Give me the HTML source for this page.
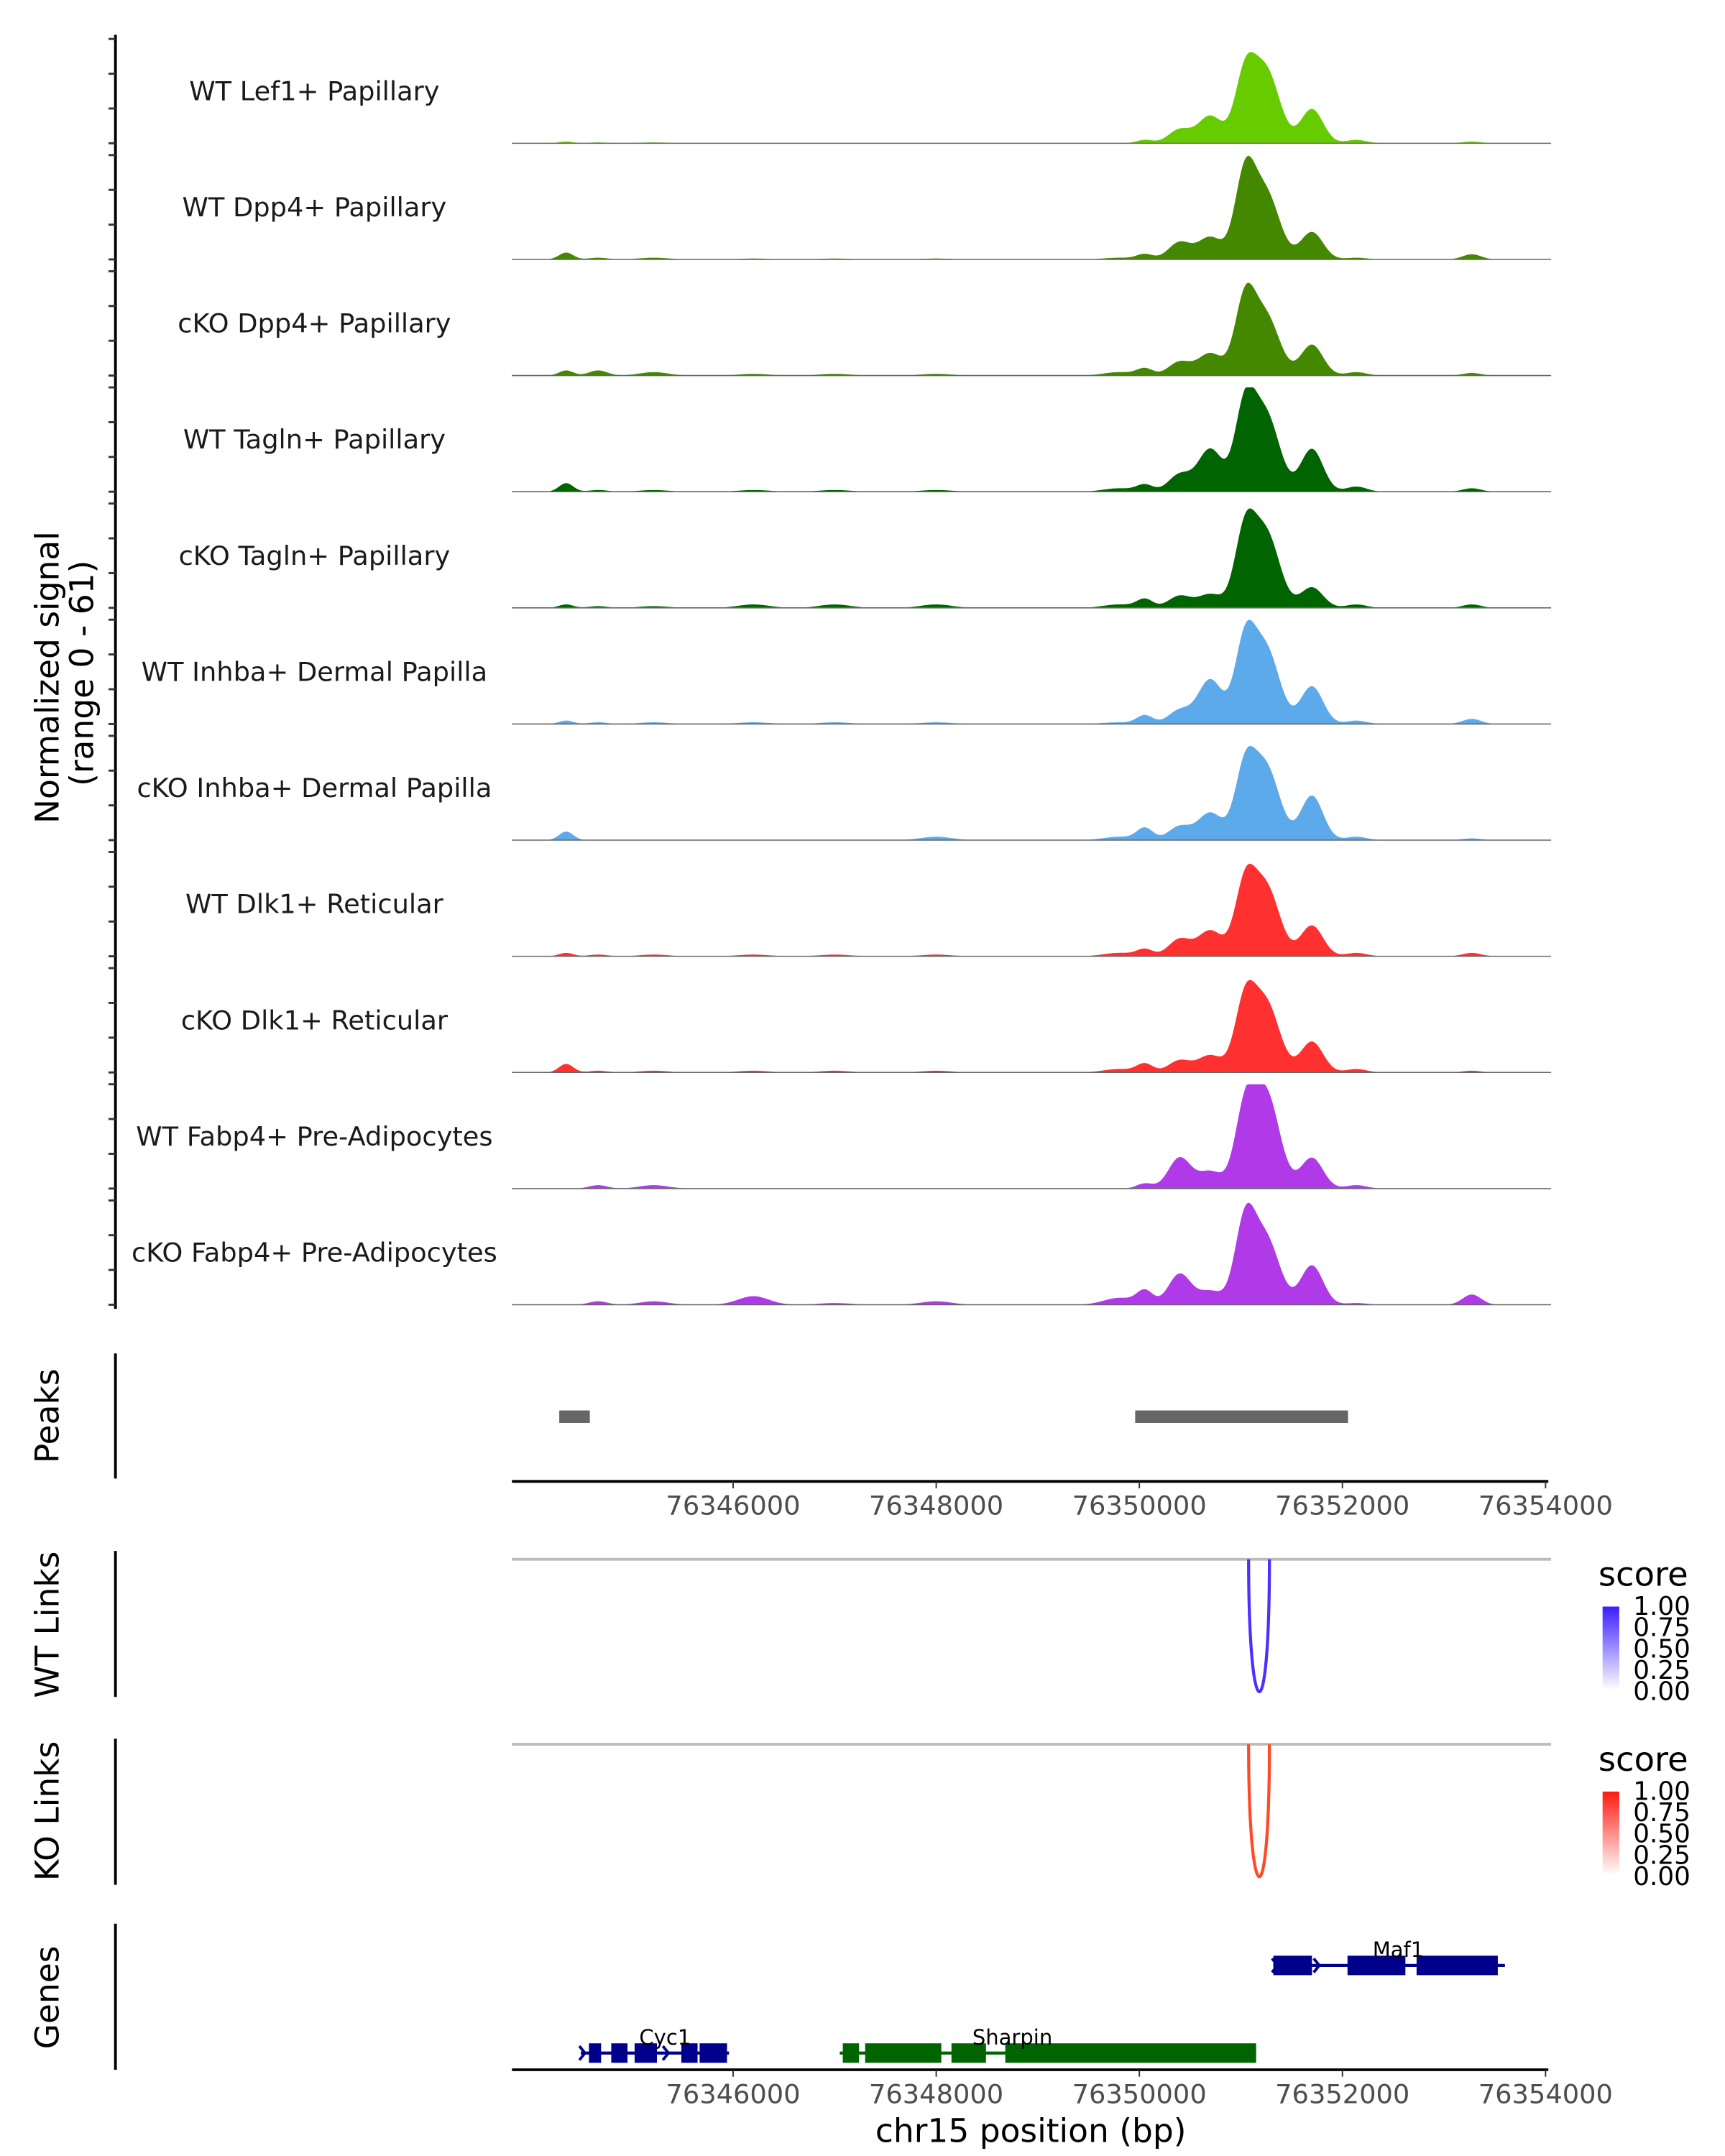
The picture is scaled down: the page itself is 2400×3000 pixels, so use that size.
<!DOCTYPE html>
<html><head><meta charset="utf-8"><style>
html,body{margin:0;padding:0;background:#fff}
svg{display:block;font-family:"DejaVu Sans","Liberation Sans",sans-serif}
</style></head><body>
<svg id="chart" xmlns="http://www.w3.org/2000/svg" width="2400" height="3000" viewBox="0 0 1240 1550">
<rect width="1240" height="1550" fill="#fff"/>
<g id="signal"></g>
<g id="left"></g>
<g id="peaks"></g>
<g id="links"></g>
<g id="genes"></g>
<text transform="translate(42,487) rotate(-90)" text-anchor="middle" font-size="23.5">Normalized signal</text>
<text transform="translate(67,484) rotate(-90)" text-anchor="middle" font-size="23.5">(range 0 - 61)</text>
<text transform="translate(42,1018) rotate(-90)" text-anchor="middle" font-size="23.5">Peaks</text>
<text transform="translate(42,1168) rotate(-90)" text-anchor="middle" font-size="23.5">WT Links</text>
<text transform="translate(42,1302) rotate(-90)" text-anchor="middle" font-size="23.5">KO Links</text>
<text transform="translate(42,1436) rotate(-90)" text-anchor="middle" font-size="23.5">Genes</text>
<text x="741" y="1540" text-anchor="middle" font-size="23.5">chr15 position (bp)</text>
</svg>
<script>
const trackNames=["WT Lef1+ Papillary","WT Dpp4+ Papillary","cKO Dpp4+ Papillary","WT Tagln+ Papillary","cKO Tagln+ Papillary","WT Inhba+ Dermal Papilla","cKO Inhba+ Dermal Papilla","WT Dlk1+ Reticular","cKO Dlk1+ Reticular","WT Fabp4+ Pre-Adipocytes","cKO Fabp4+ Pre-Adipocytes"];
const trackColors=["#66cc00","#448800","#448800","#006400","#006400","#5daaea","#5daaea","#ff3030","#ff3030","#b03ae8","#b03ae8"];
const peakCenters=[76344356,76344671,76345219,76346200,76347000,76348000,76349800,76350055,76350397,76350699,76351040,76351250,76351699,76352137,76353274];
const peakWidths=[70,90,140,150,150,150,150,80,110,120,100,130,110,100,90];
const h0=[1,0.5,0.5,0,0,0,0,2,8,16,38,42,20,2,1];
const h1=[4,1,1,0.5,0.5,0.5,1,3,10,13,48,38,16,1,3];
const h2=[3,3,2,1,1,1,2,4,8,13,43,34,18,2,1.5];
const h3=[5,1,1,1,1,1,2,4,10,25,48,44,25,3,2];
const h4=[2,1,1,2,2,2,2,5,7,8,43,43,12,2,2];
const h5=[2,1,1,1,1,1,1,5,8,26,46,43,22,2,3];
const h6=[5,0,0,0,0,2,2,7,8,16,40,42,26,2,1];
const h7=[2,1,1,1,1,1,2,4,10,15,40,40,18,2,2];
const h8=[5,1,1,1,1,1,2,5,7,10,40,40,18,2,1];
const h9=[0,2,2,0,0,0,0,3,18,10,43,55,18,2,0];
const h10=[0,2,2,5,1,2,4,8,18,8,47,38,23,1,6];
const heights=[h0,h1,h2,h3,h4,h5,h6,h7,h8,h9,h10];
const xTicks=[76346000,76348000,76350000,76352000,76354000];
const peakStarts=[76344288,76349959];
const peakEnds=[76344589,76352055];
const wtLinkStart=[76351076], wtLinkEnd=[76351281], wtLinkScore=[1.0];
const koLinkStart=[76351076], koLinkEnd=[76351281], koLinkScore=[1.0];
const legendTicks=["1.00","0.75","0.50","0.25","0.00"];
const genesData=[
 {name:"Maf1",y:1413,color:"#00008b",start:76351320,end:76353600,exons:[[76351320,76351700],[76352050,76352620],[76352730,76353530]],label:76352550,dir:1},
 {name:"Cyc1",y:1476,color:"#00008b",start:76344500,end:76345960,exons:[[76344580,76344700],[76344800,76344960],[76345030,76345250],[76345490,76345650],[76345670,76345940]],label:76345330,dir:1},
 {name:"Sharpin",y:1476,color:"#006400",start:76347050,end:76351150,exons:[[76347080,76347240],[76347300,76348050],[76348150,76348490],[76348680,76351150]],label:76348750,dir:-1}
];
const NS="http://www.w3.org/2000/svg";
const X0=368,X1=1115,BP0=76346000,PX0=527,PXPB=584/8000;
function xs(bp){return PX0+(bp-BP0)*PXPB;}
const TOP0=28,TH=83.5,TRH=75,YMAX=61;
function mk(tag,attrs,parent){const e=document.createElementNS(NS,tag);for(const k in attrs)e.setAttribute(k,attrs[k]);parent.appendChild(e);return e;}
const sig=document.getElementById('signal');
trackNames.forEach((nm,i)=>{
 const base=TOP0+TRH+i*TH;
 const hs=heights[i];
 let d="M"+X0+","+base;
 for(let px=X0;px<=X1;px+=1){
  const bp=BP0+(px-PX0)/PXPB;let v=0;
  for(let k=0;k<peakCenters.length;k++){const z=(bp-peakCenters[k])/peakWidths[k];v+=hs[k]*Math.exp(-0.5*z*z);}
  v=Math.min(v,YMAX);
  d+=" L"+px+","+(base-v/YMAX*TRH).toFixed(2);
 }
 d+=" L"+X1+","+base+" Z";
 const p=mk('path',{d:d,fill:trackColors[i]},sig);
 
 
 const bl=mk('line',{x1:X0,x2:X1,y1:base,y2:base,stroke:'#666','stroke-width':0.8},sig);
 
 
 const t=mk('text',{x:226,y:base-31,'text-anchor':'middle','font-size':'19',fill:'#1a1a1a'},sig);
 t.textContent=nm;
 
 
});
const left=document.getElementById('left');
function vline(y1,y2){const l=mk('line',{x1:83,x2:83,y1:y1,y2:y2,stroke:'#000','stroke-width':2},left);}
vline(25,941);vline(973,1063);vline(1115,1220);vline(1250,1355);vline(1383,1488);
for(let i=0;i<trackNames.length;i++){const base=TOP0+TRH+i*TH;for(let j=0;j<4;j++){const y=base-j*TRH/3;const tk=mk('line',{x1:78,x2:83,y1:y,y2:y,stroke:'#333','stroke-width':1.5},left);}}
const pk=document.getElementById('peaks');
peakStarts.forEach((s,i)=>{const r=mk('rect',{x:xs(s),y:1014,width:xs(peakEnds[i])-xs(s),height:9,fill:'#666'},pk);});
function xaxis(y,g){const a=mk('line',{x1:X0,x2:1113,y1:y,y2:y,stroke:'#000','stroke-width':2},g);
 xTicks.forEach(v=>{const x=xs(v);const tk=mk('line',{x1:x,x2:x,y1:y,y2:y+5,stroke:'#333','stroke-width':1},g);
 const t=mk('text',{x:x,y:y+24,'text-anchor':'middle','font-size':'19',fill:'#4d4d4d'},g);t.textContent=v;});}
xaxis(1065,pk);
const lk=document.getElementById('links');
const defs=mk('defs',{},lk);
function grad(id,c){const g=mk('linearGradient',{id:id,x1:0,y1:1,x2:0,y2:0},defs);mk('stop',{offset:0,'stop-color':'#fff'},g);mk('stop',{offset:1,'stop-color':c},g);}
grad('gwt','#3a1eff');grad('gko','#ff1a10');
function linkPanel(top,starts,ends,scores,color,gid,name){
 const bl=mk('line',{x1:X0,x2:1115,y1:top,y2:top,stroke:'#bbb','stroke-width':2},lk);
 starts.forEach((s,i)=>{const a=xs(s),b=xs(ends[i]);const depth=94*scores[i];
  const d=`M${a},${top} C${a},${top+depth*1.3} ${b},${top+depth*1.4} ${b},${top}`;
  const p=mk('path',{d:d,fill:'none',stroke:color,'stroke-width':2.2},lk);});
 const ly=top+19;
 const st=mk('text',{x:1149,y:ly,'font-size':'24'},lk);st.textContent='score';
 const cb=mk('rect',{x:1152,y:ly+15,width:12,height:60,fill:'url(#'+gid+')'},lk);
 legendTicks.forEach((t,j)=>{const tt=mk('text',{x:1174,y:ly+21+j*15.3,'font-size':'18.5'},lk);tt.textContent=t;});
}
linkPanel(1121,wtLinkStart,wtLinkEnd,wtLinkScore,'#4b30ff','gwt','wt-links');
linkPanel(1254,koLinkStart,koLinkEnd,koLinkScore,'#ff4a2a','gko','ko-links');
const gn=document.getElementById('genes');
genesData.forEach(g=>{
 const grp=mk('g',{},gn);
 mk('line',{x1:xs(g.start),x2:xs(g.end),y1:g.y,y2:g.y,stroke:g.color,'stroke-width':2.2},grp);
 const n=Math.floor((xs(g.end)-xs(g.start))/30);
 for(let k=0;k<=n;k++){const x=xs(g.start)+k*30+3;const dx=4*g.dir;
  mk('polyline',{points:`${x-dx},${g.y-5} ${x},${g.y} ${x-dx},${g.y+5}`,fill:'none',stroke:g.color,'stroke-width':2},grp);}
 g.exons.forEach(e=>{mk('rect',{x:xs(e[0]),y:g.y-7,width:xs(e[1])-xs(e[0]),height:14,fill:g.color},grp);});
 const t=mk('text',{x:xs(g.label),y:g.y-6,'text-anchor':'middle','font-size':'15'},grp);t.textContent=g.name;
});
xaxis(1488,gn);
</script>
</body></html>
